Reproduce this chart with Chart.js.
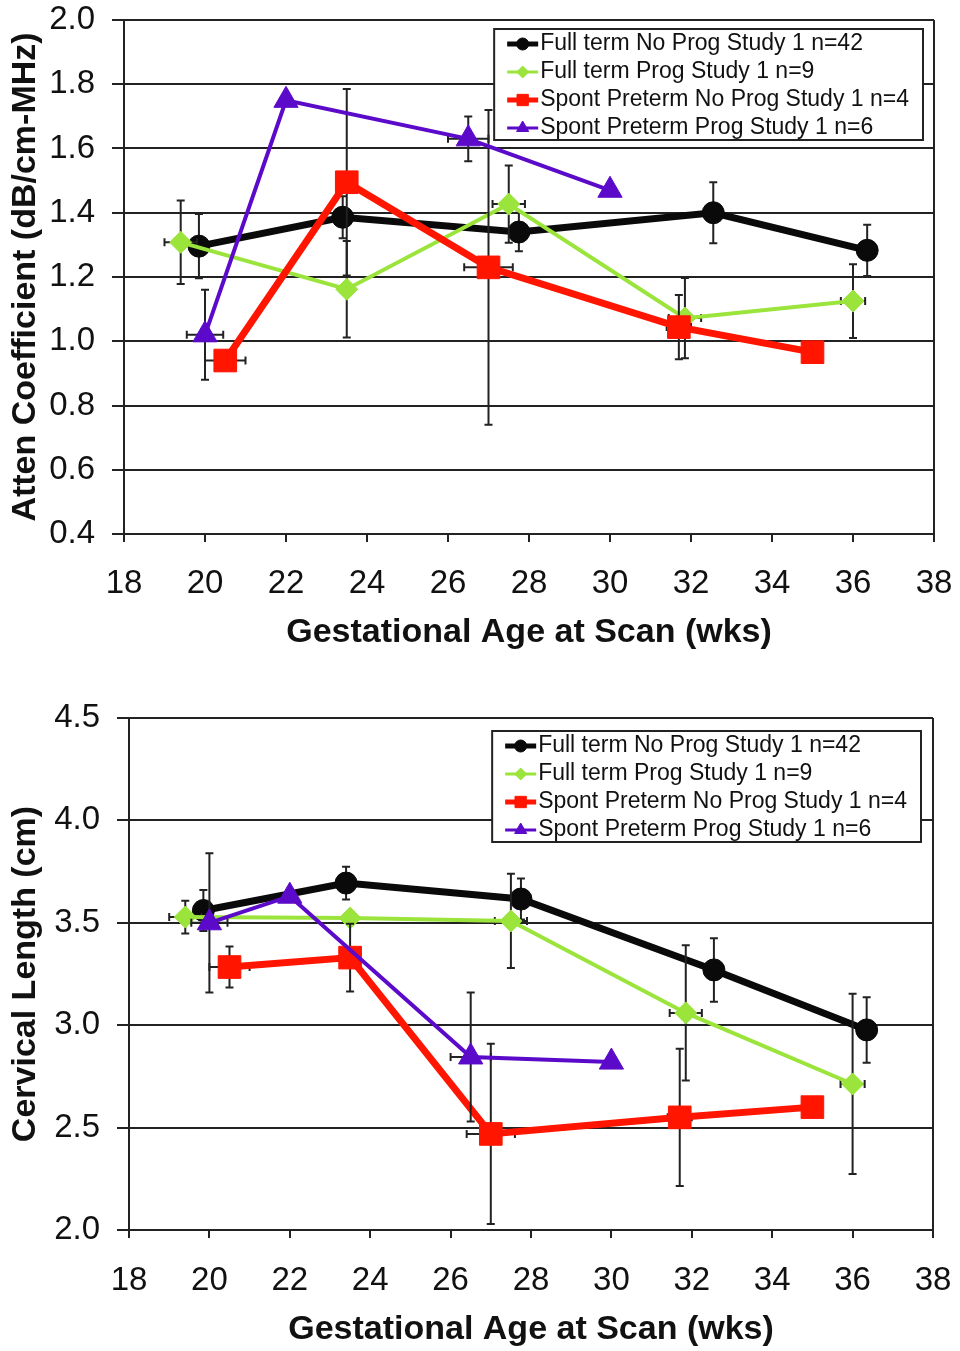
<!DOCTYPE html>
<html>
<head>
<meta charset="utf-8">
<script src="https://cdn.jsdelivr.net/npm/chart.js@4.4.0/dist/chart.umd.min.js"></script>
<style>
  body { margin: 0; background: #fff; }
  #wrap { position: relative; width: 960px; height: 1351px; }
  .box { position: absolute; left: 0; width: 960px; }
  #top { top: 0; height: 670px; }
  #bottom { top: 670px; height: 681px; }
</style>
</head>
<body>
<div id="wrap">
  <div class="box" id="top"><canvas id="attenChart"></canvas></div>
  <div class="box" id="bottom"><canvas id="lengthChart"></canvas></div>
</div>
<script>
// gestational age (wks) of each group's scans, shared by both panels
const weeksFullNoProg = [19.85, 23.4, 27.75, 32.55, 36.35];
const weeksFullProg = [19.4, 23.5, 27.5, 31.85, 36.0];
const weeksSpontNoProg = [20.5, 23.5, 27.0, 31.7, 35.0];
const weeksSpontProg = [20.0, 22.0, 26.5, 30.0];

// horizontal SD (wks)
const weeksSdFullNoProg = [0, 0, 0, 0, 0];
const weeksSdFullProg = [0.4, 0.15, 0.4, 0.4, 0.3];
const weeksSdSpontNoProg = [0.5, 0.1, 0.6, 0.3, 0];
const weeksSdSpontProg = [0.45, 0, 0.5, 0];

// top panel: attenuation coefficient
const attenFullNoProg = [1.296, 1.386, 1.34, 1.40, 1.283];
const attenFullProg = [1.308, 1.162, 1.427, 1.072, 1.125];
const attenSpontNoProg = [0.94, 1.495, 1.23, 1.044, 0.966];
const attenSpontProg = [1.02, 1.75, 1.63, 1.47];
const attenSdFullNoProg = [0.10, 0.065, 0.06, 0.095, 0.08];
const attenSdFullProg = [0.13, 0.15, 0.12, 0.125, 0.115];
const attenSdSpontNoProg = [0, 0.29, 0.49, 0.10, 0];
const attenSdSpontProg = [0.14, 0, 0.07, 0];

// bottom panel: cervical length
const lengthFullNoProg = [3.56, 3.694, 3.616, 3.27, 2.977];
const lengthFullProg = [3.528, 3.523, 3.509, 3.06, 2.713];
const lengthSpontNoProg = [3.284, 3.33, 2.469, 2.55, 2.60];
const lengthSpontProg = [3.50, 3.63, 2.845, 2.82];
const lengthSdFullNoProg = [0.1, 0.08, 0.1, 0.155, 0.16];
const lengthSdFullProg = [0.08, 0.03, 0.23, 0.33, 0.44];
const lengthSdSpontNoProg = [0.1, 0.165, 0.44, 0.335, 0];
const lengthSdSpontProg = [0.34, 0, 0.315, 0];

const seriesLabels = [
  "Full term No Prog Study 1 n=42",
  "Full term Prog Study 1 n=9",
  "Spont Preterm No Prog Study 1 n=4",
  "Spont Preterm Prog Study 1 n=6"
];
const xTicks = [18, 20, 22, 24, 26, 28, 30, 32, 34, 36, 38];

const FONT = "'Liberation Sans', Arial, sans-serif";
const INK = "#222";
Chart.defaults.font.family = FONT;
Chart.defaults.color = "#111";

const styles = [
  { color: "#0a0a0a", width: 7, point: "circle", radius: 11, legendRadius: 6, order: 3 },
  { color: "#9be43c", width: 4, point: "rectRot", radius: 11, legendRadius: 6, order: 2 },
  { color: "#ff1500", width: 7, point: "rect", radius: 16, legendRadius: 8, order: 1 },
  { color: "#5c0ac9", width: 4, point: "triangle", radius: 14, legendRadius: 7, order: 0 }
];

function series(i, weeks, values, ySd, xSd) {
  const s = styles[i];
  return {
    label: seriesLabels[i],
    data: weeks.map((w, k) => ({ x: w, y: values[k] })),
    yErr: ySd,
    xErr: xSd,
    borderColor: s.color,
    backgroundColor: s.color,
    borderWidth: s.width,
    pointStyle: s.point,
    pointRadius: s.radius,
    pointBorderWidth: 1,
    pointBorderColor: s.color,
    pointBackgroundColor: s.color,
    legendRadius: s.legendRadius,
    tension: 0,
    order: s.order
  };
}

// SD bars drawn just under each series
const errorBars = {
  id: "errorBars",
  beforeDatasetDraw(chart, args) {
    const ds = chart.data.datasets[args.index];
    const xs = chart.scales.x, ys = chart.scales.y;
    const ctx = chart.ctx;
    ctx.save();
    ctx.strokeStyle = INK;
    ctx.lineWidth = 2;
    ds.data.forEach((p, i) => {
      const px = xs.getPixelForValue(p.x), py = ys.getPixelForValue(p.y);
      const dy = ds.yErr[i], dx = ds.xErr[i];
      ctx.beginPath();
      if (dy) {
        const y1 = ys.getPixelForValue(p.y + dy), y2 = ys.getPixelForValue(p.y - dy);
        ctx.moveTo(px, y1); ctx.lineTo(px, y2);
        ctx.moveTo(px - 4, y1); ctx.lineTo(px + 4, y1);
        ctx.moveTo(px - 4, y2); ctx.lineTo(px + 4, y2);
      }
      if (dx) {
        const x1 = xs.getPixelForValue(p.x - dx), x2 = xs.getPixelForValue(p.x + dx);
        ctx.moveTo(x1, py); ctx.lineTo(x2, py);
        ctx.moveTo(x1, py - 4); ctx.lineTo(x1, py + 4);
        ctx.moveTo(x2, py - 4); ctx.lineTo(x2, py + 4);
      }
      ctx.stroke();
    });
    ctx.restore();
  }
};

// boxed legend with line + marker samples
const boxLegend = {
  id: "boxLegend",
  afterDraw(chart, args, opts) {
    const ctx = chart.ctx, area = chart.chartArea;
    const sets = chart.data.datasets;
    ctx.save();
    ctx.font = "23px " + FONT;
    const textW = Math.max(...sets.map(d => ctx.measureText(d.label).width));
    const w = 13 + 33 + textW + 14;
    const h = 111;
    const left = area.right - opts.right - w, top = area.top + opts.top;
    ctx.fillStyle = "#fff";
    ctx.fillRect(left, top, w, h);
    ctx.strokeStyle = INK;
    ctx.lineWidth = 2;
    ctx.strokeRect(left, top, w, h);
    sets.forEach((ds, i) => {
      const y = top + 15 + i * 28;
      const x0 = left + 13, x1 = left + 44;
      ctx.strokeStyle = ds.borderColor;
      ctx.lineWidth = Math.max(3, ds.borderWidth - 2);
      ctx.beginPath();
      ctx.moveTo(x0, y); ctx.lineTo(x1, y);
      ctx.stroke();
      ctx.fillStyle = ds.borderColor;
      ctx.lineWidth = 1;
      Chart.helpers.drawPoint(ctx, { pointStyle: ds.pointStyle, radius: ds.legendRadius, rotation: 0, borderWidth: 1 }, (x0 + x1) / 2, y);
      ctx.fillStyle = "#111";
      ctx.textBaseline = "middle";
      ctx.textAlign = "left";
      ctx.fillText(ds.label, x1 + 2, y);
    });
    ctx.restore();
  }
};

function makeChart(id, datasets, yOpts, layout) {
  return new Chart(document.getElementById(id), {
    type: "line",
    data: { datasets },
    plugins: [errorBars, boxLegend],
    options: {
      responsive: true,
      maintainAspectRatio: false,
      animation: false,
      layout: { padding: layout.padding },
      plugins: {
        legend: { display: false },
        tooltip: { enabled: false },
        boxLegend: { right: layout.legendRight, top: layout.legendTop }
      },
      scales: {
        x: {
          type: "linear",
          min: 18,
          max: 38,
          afterBuildTicks: s => { s.ticks = xTicks.map(v => ({ value: v })); },
          afterFit: s => {
            s.height = layout.xHeight;
            s.paddingLeft = 0;
            s.paddingRight = 0;
          },
          ticks: { font: { size: 33 }, padding: layout.xTickPad, color: "#111" },
          grid: {
            color: c => (c.tick && c.tick.value === 38 ? INK : "transparent"),
            tickColor: INK,
            lineWidth: 2,
            tickLength: 8
          },
          border: { display: true, color: INK, width: 2 },
          title: {
            display: true,
            text: "Gestational Age at Scan (wks)",
            font: { size: 34, weight: "bold" },
            color: "#111",
            padding: { top: 0, bottom: layout.xTitlePad }
          }
        },
        y: {
          min: yOpts.min,
          max: yOpts.max,
          afterFit: s => {
            s.width = layout.yWidth;
            s.paddingTop = 0;
            s.paddingBottom = 0;
          },
          ticks: {
            stepSize: yOpts.step,
            font: { size: 33 },
            padding: 17,
            color: "#111",
            callback: v => v.toFixed(1)
          },
          grid: { color: INK, lineWidth: 2, tickLength: 12 },
          border: { display: true, color: INK, width: 2 },
          title: {
            display: true,
            text: yOpts.title,
            font: { size: 34, weight: "bold" },
            color: "#111",
            padding: { top: 5, bottom: 0 }
          }
        }
      }
    }
  });
}

makeChart("attenChart", [
  series(0, weeksFullNoProg, attenFullNoProg, attenSdFullNoProg, weeksSdFullNoProg),
  series(1, weeksFullProg, attenFullProg, attenSdFullProg, weeksSdFullProg),
  series(2, weeksSpontNoProg, attenSpontNoProg, attenSdSpontNoProg, weeksSdSpontNoProg),
  series(3, weeksSpontProg, attenSpontProg, attenSdSpontProg, weeksSdSpontProg)
], { min: 0.4, max: 2.0, step: 0.2, title: "Atten Coefficient (dB/cm-MHz)" }, {
  padding: { top: 20, right: 26, bottom: 0, left: 0 },
  xHeight: 136, yWidth: 124, xTickPad: 22, xTitlePad: 17,
  legendRight: 11, legendTop: 9
});

makeChart("lengthChart", [
  series(0, weeksFullNoProg, lengthFullNoProg, lengthSdFullNoProg, weeksSdFullNoProg),
  series(1, weeksFullProg, lengthFullProg, lengthSdFullProg, weeksSdFullProg),
  series(2, weeksSpontNoProg, lengthSpontNoProg, lengthSdSpontNoProg, weeksSdSpontNoProg),
  series(3, weeksSpontProg, lengthSpontProg, lengthSdSpontProg, weeksSdSpontProg)
], { min: 2.0, max: 4.5, step: 0.5, title: "Cervical Length (cm)" }, {
  padding: { top: 48, right: 27, bottom: 0, left: 0 },
  xHeight: 121, yWidth: 129, xTickPad: 23, xTitlePad: 1,
  legendRight: 12, legendTop: 13
});
</script>
</body>
</html>
